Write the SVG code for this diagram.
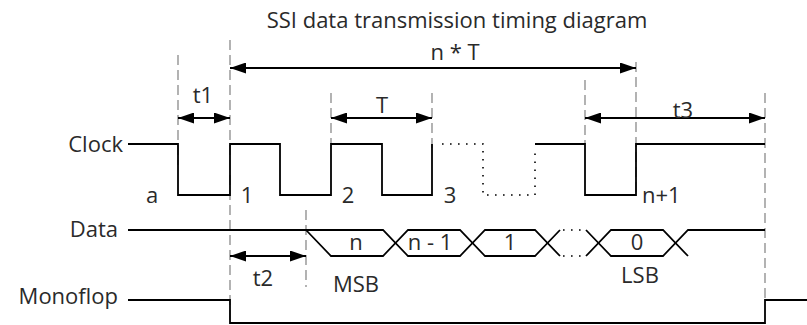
<svg xmlns="http://www.w3.org/2000/svg" width="807" height="325" viewBox="0 0 807 325">
<style>
text{font-family:"Open Sans","Noto Sans","DejaVu Sans",sans-serif;font-size:22px;fill:#2a2a2a}
.m{text-anchor:middle}
.e{text-anchor:end}
.sig{fill:none;stroke:#000;stroke-width:1.8}
.dot{fill:none;stroke:#000;stroke-width:1.6;stroke-dasharray:1.6 6.4}
.guide{fill:none;stroke:#a0a0a0;stroke-width:1.6;stroke-dasharray:10 5}
.dim{fill:none;stroke:#000;stroke-width:2}
</style>
<defs>
<marker id="ah" viewBox="0 0 16 11" refX="16" refY="5.5" markerWidth="16" markerHeight="11" markerUnits="userSpaceOnUse" orient="auto-start-reverse">
<path d="M0,0 L16,5.5 L0,11 z" fill="#000"/>
</marker>
</defs>
<rect width="807" height="325" fill="#fff"/>
<text id="title" class="m" x="457" y="28">SSI data transmission timing diagram</text>
<g id="guides">
<line class="guide" x1="178" y1="55" x2="178" y2="165"/>
<line class="guide" x1="230" y1="40" x2="230" y2="323"/>
<line class="guide" x1="331" y1="93" x2="331" y2="144"/>
<line class="guide" x1="432" y1="93" x2="432" y2="150"/>
<line class="guide" x1="585" y1="80" x2="585" y2="144"/>
<line class="guide" x1="636" y1="62" x2="636" y2="195"/>
<line class="guide" x1="765" y1="93" x2="765" y2="300"/>
<line class="guide" x1="306" y1="210" x2="306" y2="287"/>
</g>
<g id="clock">
<text class="e" x="123" y="152">Clock</text>
<path class="sig" d="M128,144 H178 V195 H230 V144 H280 V195 H331 V144 H382 V195 H432 V144"/>
<path class="dot" d="M442,144 H483 V195 H535 V153"/>
<path class="sig" d="M535,144 H585 V195 H636 V144 H765"/>
<text class="m" x="152" y="203">a</text>
<text class="m" x="247" y="203">1</text>
<text class="m" x="348" y="203">2</text>
<text class="m" x="450" y="203">3</text>
<text x="642" y="203">n+1</text>
</g>
<g id="data">
<text class="e" x="118" y="237">Data</text>
<path class="sig" d="M128,230 H306"/>
<path class="sig" d="M306,230 H383 L408,256 H460 L485,230 H535 L560,256"/>
<path class="sig" d="M306,230 L331,256 H383 L408,230 H460 L485,256 H535 L560,230"/>
<path class="dot" d="M563,230 H586 M563,256 H586"/>
<path class="sig" d="M586,230 L611,256 H663 L688,230 H765"/>
<path class="sig" d="M586,256 L611,230 H663 L688,256"/>
<text class="m" x="356" y="250">n</text>
<text class="m" x="430" y="250">n - 1</text>
<text class="m" x="510" y="250">1</text>
<text class="m" x="637" y="250">0</text>
<text class="m" x="356" y="292">MSB</text>
<text class="m" x="640" y="283">LSB</text>
</g>
<g id="monoflop">
<text class="e" x="118" y="304">Monoflop</text>
<path class="sig" d="M128,300 H230 V323 H765 V300 H807"/>
</g>
<g id="connectors">
<line class="dim" x1="230" y1="68" x2="636" y2="68" marker-start="url(#ah)" marker-end="url(#ah)"/>
<line class="dim" x1="178" y1="118" x2="230" y2="118" marker-start="url(#ah)" marker-end="url(#ah)"/>
<line class="dim" x1="331" y1="118" x2="432" y2="118" marker-start="url(#ah)" marker-end="url(#ah)"/>
<line class="dim" x1="585" y1="118" x2="765" y2="118" marker-start="url(#ah)" marker-end="url(#ah)"/>
<line class="dim" x1="230" y1="256" x2="306" y2="256" marker-start="url(#ah)" marker-end="url(#ah)"/>
<text class="m" x="455" y="60">n * T</text>
<text class="m" x="203" y="103">t1</text>
<text class="m" x="382" y="113">T</text>
<text class="m" x="683" y="118">t3</text>
<text class="m" x="263" y="286">t2</text>
</g>
</svg>
